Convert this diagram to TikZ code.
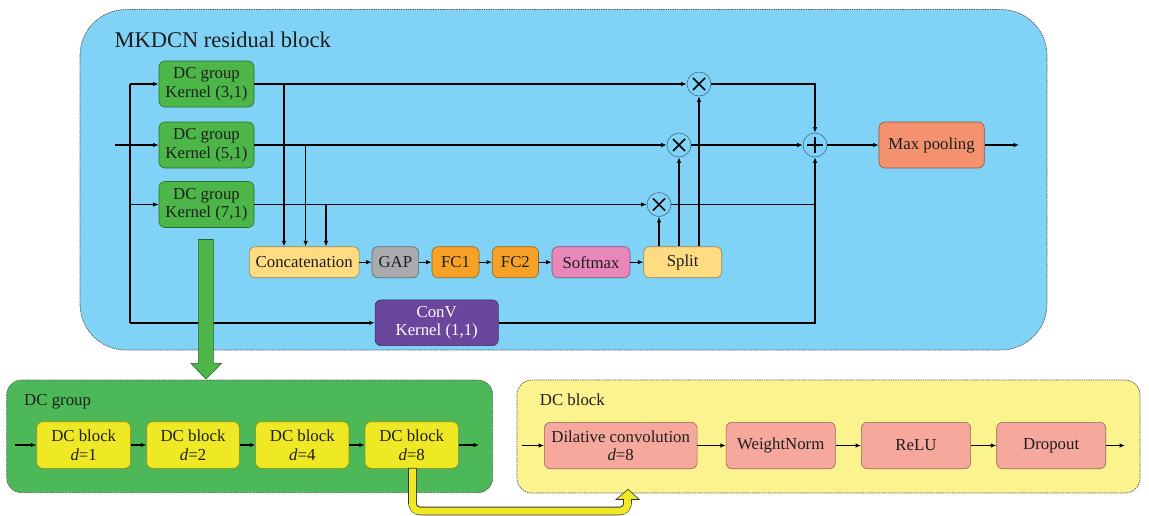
\documentclass[tikz,border=0pt]{standalone}
\usepackage{fontspec}
\setmainfont{Liberation Serif}
\usetikzlibrary{arrows.meta,calc}

\definecolor{resblue}{RGB}{128,211,246}
\definecolor{grpgreen}{RGB}{76,183,72}
\definecolor{boxgreen}{RGB}{77,184,87}
\definecolor{pale}{RGB}{255,220,130}
\definecolor{gapgray}{RGB}{169,171,174}
\definecolor{fcorange}{RGB}{247,162,38}
\definecolor{softpink}{RGB}{232,135,185}
\definecolor{poolred}{RGB}{244,145,111}
\definecolor{convpurple}{RGB}{106,70,156}
\definecolor{blkyellow}{RGB}{239,232,36}
\definecolor{paleyellow}{RGB}{251,243,141}
\definecolor{salmon}{RGB}{246,168,157}
\definecolor{ringcol}{RGB}{62,110,142}
\definecolor{dashcol}{RGB}{85,85,85}
\definecolor{ink}{RGB}{30,30,30}

\begin{document}
\begin{tikzpicture}[x=1pt,y=-1pt,
  font=\fontsize{16.8}{18.5}\selectfont, text=ink,
  bx/.style={fill=#1, draw=#1!60!black, line width=0.6pt, rounded corners=6pt,
             inner sep=0pt, align=center},
  panel/.style={fill=#1, draw=dashcol, line width=0.7pt, dash pattern=on 1.4pt off 0.9pt},
  wire/.style={line width=1.4pt},
  arr/.style={line width=1.4pt, -{Latex[length=5.5pt,width=4.5pt]}},
  ring/.style={circle, draw=ringcol, line width=0.6pt, minimum size=24pt, inner sep=0pt},
  symb/.style={line width=1.5pt}]

\useasboundingbox (0,0) rectangle (1149,515);

% ---------- containers ----------
\draw[panel=resblue, rounded corners=46pt] (80,9.5) rectangle (1047,350);
\node[anchor=base west, font=\fontsize{22.5}{24}\selectfont] (ttl) at (111,47) {MKDCN residual block};

\draw[panel=boxgreen, rounded corners=15pt] (6.7,380) rectangle (492.7,492.7);
\node[anchor=base west] (tgrp) at (20.7,405) {DC group};

\draw[panel=paleyellow, rounded corners=15pt] (517,380) rectangle (1140,493);
\node[anchor=base west] (tblk) at (536.4,405) {DC block};

% ---------- multi-kernel branches ----------
\node[bx=grpgreen, minimum width=95pt, minimum height=46pt] (g3) at (206.5,84) {DC group\\Kernel (3,1)};
\node[bx=grpgreen, minimum width=95pt, minimum height=46pt] (g5) at (206.5,145) {DC group\\Kernel (5,1)};
\node[bx=grpgreen, minimum width=95pt, minimum height=46pt] (g7) at (206.5,204.5) {DC group\\Kernel (7,1)};

\node[bx=pale, minimum width=109.7pt, minimum height=31pt] (cat) at (304.2,262.2) {Concatenation};
\node[bx=gapgray, minimum width=46.7pt, minimum height=31pt] (gap) at (395.3,262.2) {GAP};
\node[bx=fcorange, minimum width=47pt, minimum height=31pt] (fc1) at (455.5,262.2) {FC1};
\node[bx=fcorange, minimum width=46.2pt, minimum height=31pt] (fc2) at (515.4,262.2) {FC2};
\node[bx=softpink, minimum width=78pt, minimum height=31pt] (soft) at (591,262.2) {Softmax};
\node[bx=pale, minimum width=78pt, minimum height=31pt] (split) at (682.7,262.2) {Split};

\node[ring] (m1) at (699,84) {};
\node[ring] (m2) at (679,145) {};
\node[ring] (m3) at (659,204.5) {};
\node[ring] (sum) at (815,145) {};
\foreach \m in {m1,m2,m3}{
  \draw[symb] ($(\m)+(-6,-6)$) -- ($(\m)+(6,6)$);
  \draw[symb] ($(\m)+(-6,6)$) -- ($(\m)+(6,-6)$);
}
\draw[symb] ($(sum)+(-8,0)$) -- ($(sum)+(8,0)$);
\draw[symb] ($(sum)+(0,-8)$) -- ($(sum)+(0,8)$);

\node[bx=poolred, minimum width=105.3pt, minimum height=46pt] (pool) at (931.6,145) {Max pooling};
\node[bx=convpurple, minimum width=123.3pt, minimum height=45.7pt, text=white] (conv) at (436.7,322.8) {ConV\\Kernel (1,1)};

% ---------- wiring ----------
\coordinate (in) at (115,145);
\coordinate (lt) at (130,84);
\coordinate (lm) at (130,204.5);
\coordinate (lb) at (130,322.8);
\coordinate (out) at (1019,145);
\coordinate (c1) at (284,84);
\coordinate (c2) at (305.7,145);
\coordinate (c3) at (326,204.5);

\draw[arr] (in) -- (g5);
\draw[wire] (lt) -- (lb);
\draw[arr] (lt) -- (g3);
\draw[arr] (lm) -- (g7);
\draw[arr] (lb) -- (conv);

\draw[arr] (g3) -- (m1);
\draw[arr] (g5) -- (m2);
\draw[arr] (g7) -- (m3);

\draw[arr] (c1) -- (c1 |- cat.north);
\draw[arr] (c2) -- (c2 |- cat.north);
\draw[arr] (c3) -- (c3 |- cat.north);

\draw[arr] (cat) -- (gap);
\draw[arr] (gap) -- (fc1);
\draw[arr] (fc1) -- (fc2);
\draw[arr] (fc2) -- (soft);
\draw[arr] (soft) -- (split);

\draw[arr] (split.north -| m3) -- (m3);
\draw[arr] (split.north -| m2) -- (m2);
\draw[arr] (split.north -| m1) -- (m1);

\draw[arr] (m1) -| (sum);
\draw[arr] (m2) -- (sum);
\draw[wire] (m3) -- (m3 -| sum);
\draw[arr] (conv) -| (sum);
\draw[arr] (sum) -- (pool);
\draw[arr] (pool) -- (out);

% ---------- expansion arrow to the DC group ----------
\draw[fill=grpgreen, draw=grpgreen!55!black, line width=0.6pt]
  (198.3,239.5) -- (213.3,239.5) -- (213.3,363.3) -- (221.7,363.3) -- (206,379)
  -- (191,363.3) -- (198.3,363.3) -- cycle;

% ---------- DC group chain ----------
\node[bx=blkyellow, minimum width=94pt, minimum height=46.6pt] (b1) at (83.7,445) {DC block\\\textit{d}=1};
\node[bx=blkyellow, minimum width=92.6pt, minimum height=46.6pt] (b2) at (193,445) {DC block\\\textit{d}=2};
\node[bx=blkyellow, minimum width=93.3pt, minimum height=46.6pt] (b4) at (302.3,445) {DC block\\\textit{d}=4};
\node[bx=blkyellow, minimum width=93.3pt, minimum height=46.6pt] (b8) at (411.7,445) {DC block\\\textit{d}=8};
\coordinate (gin) at (15,445);
\coordinate (gout) at (479,445);
\draw[arr] (gin) -- (b1);
\draw[arr] (b1) -- (b2);
\draw[arr] (b2) -- (b4);
\draw[arr] (b4) -- (b8);
\draw[arr] (b8) -- (gout);

% ---------- DC block chain ----------
\node[bx=salmon, minimum width=152.7pt, minimum height=46.4pt] (dil) at (620.7,445.5) {Dilative convolution\\\textit{d}=8};
\node[bx=salmon, minimum width=109.3pt, minimum height=46.4pt] (wn) at (780.7,445.5) {WeightNorm};
\node[bx=salmon, minimum width=109.3pt, minimum height=46.4pt] (relu) at (916,445.5) {ReLU};
\node[bx=salmon, minimum width=109pt, minimum height=46.4pt] (drop) at (1051.2,445.5) {Dropout};
\coordinate (kin) at (521.5,445.5);
\coordinate (kout) at (1125,445.5);
\draw[arr] (kin) -- (dil);
\draw[arr] (dil) -- (wn);
\draw[arr] (wn) -- (relu);
\draw[arr] (relu) -- (drop);
\draw[arr] (drop) -- (kout);

% ---------- bent arrow from d=8 to the DC block panel ----------
\coordinate (ya) at (412.5,467.8);
\coordinate (yb) at (627.5,499.5);
\draw[line width=8.6pt, black!80, rounded corners=8pt] (ya) |- (627.5,511) -- (yb);
\draw[line width=7pt, blkyellow, rounded corners=7.2pt] ($(ya)+(0,0.8)$) |- (627.5,511) -- ($(yb)+(0,-0.5)$);
\draw[fill=blkyellow, draw=black!80, line width=0.6pt] (616,499.5) -- (639.3,499.5) -- (628,489.3) -- cycle;
\draw[line width=7pt, blkyellow] (627.5,503) -- (627.5,498.9);
\end{tikzpicture}
\end{document}
